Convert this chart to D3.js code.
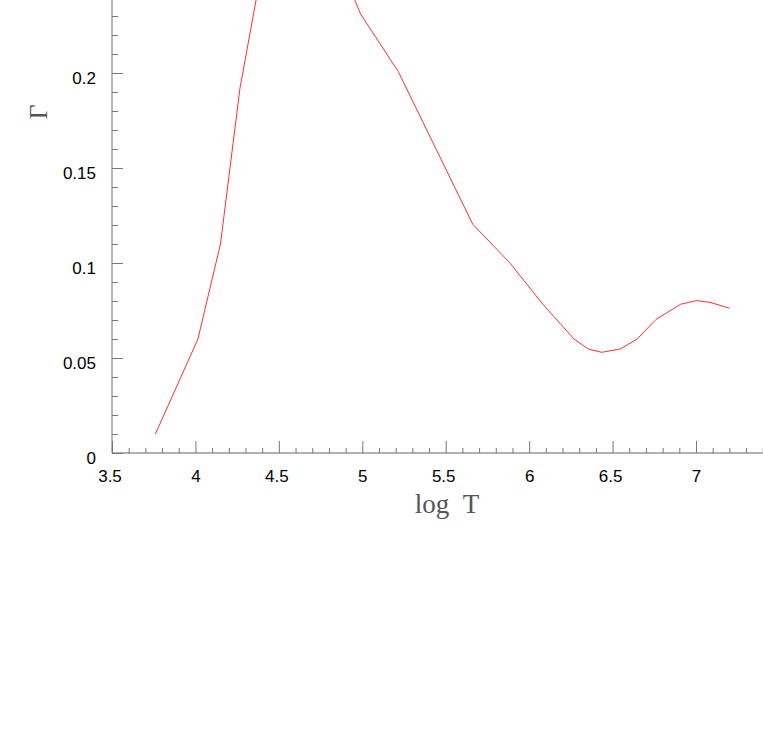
<!DOCTYPE html>
<html>
<head>
<meta charset="utf-8">
<script src="https://cdn.jsdelivr.net/npm/d3@7"></script>
<style>
  html, body { margin: 0; padding: 0; background: #fff; }
  svg { display: block; }
</style>
</head>
<body>
<svg id="chart" width="763" height="739"></svg>
<script>
// Data (log T vs Gamma)
const logT  = [3.76, 4.015, 4.15, 4.267, 4.4, 4.5, 4.6, 4.7, 4.8, 4.9, 4.99, 5.216, 5.662, 5.881, 6.085, 6.269, 6.355, 6.435, 6.545, 6.648, 6.76, 6.908, 7.004, 7.084, 7.2];
const gamma = [0.010, 0.060, 0.110, 0.192, 0.256, 0.278, 0.290, 0.285, 0.270, 0.250, 0.231, 0.2007, 0.1204, 0.1004, 0.078, 0.060, 0.0547, 0.053, 0.0547, 0.060, 0.0703, 0.0783, 0.0802, 0.0793, 0.0762];
const xMajorTicks = [3.5, 4, 4.5, 5, 5.5, 6, 6.5, 7];
const xTickLabels = ["3.5", "4", "4.5", "5", "5.5", "6", "6.5", "7"];
const yMajorTicks = [0, 0.05, 0.1, 0.15, 0.2];
const yTickLabels = ["0", "0.05", "0.1", "0.15", "0.2"];
const xLabel = "log\u00a0\u00a0T";
const yLabel = "\u0393";

const svg = d3.select("#chart");
const x = d3.scaleLinear().domain([3.5, 7]).range([112, 696]);
const y = d3.scaleLinear().domain([0, 0.2]).range([453, 73]);

const xMinor = d3.range(35, 75).map(v => v / 10).filter(v => Math.abs(v * 2 - Math.round(v * 2)) > 1e-9);
const yMinor = d3.range(0, 24).map(v => v / 100).filter(v => Math.abs(v * 20 - Math.round(v * 20)) > 1e-9);

const axisColor = "#777";
const font = "'Liberation Sans', Arial, sans-serif";

// X axis line
svg.append("line")
  .attr("x1", x(3.5)).attr("x2", x(7.4))
  .attr("y1", y(0)).attr("y2", y(0))
  .attr("stroke", "#999").attr("stroke-width", 1.5);
// Y axis line
svg.append("line")
  .attr("x1", x(3.5)).attr("x2", x(3.5))
  .attr("y1", y(0)).attr("y2", 0)
  .attr("stroke", "#888").attr("stroke-width", 1.2);

// X major ticks + labels
const xAxis = d3.axisBottom(x)
  .tickValues(xMajorTicks)
  .tickSizeInner(-12).tickSizeOuter(0).tickPadding(17)
  .tickFormat((d, i) => xTickLabels[i]);
const gx = svg.append("g").attr("transform", `translate(0,${y(0)})`).call(xAxis);
gx.select(".domain").remove();
gx.selectAll(".tick line").attr("stroke", axisColor);
gx.selectAll(".tick text").attr("fill", "#000")
  .attr("dx", (d, i) => xTickLabels[i].indexOf(".") >= 0 ? -2.5 : 0)
  .style("font-family", font).style("font-size", "17px");

// X minor ticks
const gxm = svg.append("g").attr("transform", `translate(0,${y(0)})`)
  .call(d3.axisBottom(x).tickValues(xMinor).tickSizeInner(-5).tickSizeOuter(0).tickFormat(""));
gxm.select(".domain").remove();
gxm.selectAll(".tick line").attr("stroke", axisColor);

// Y major ticks + labels
const yAxis = d3.axisLeft(y)
  .tickValues(yMajorTicks)
  .tickSizeInner(-11).tickSizeOuter(0).tickPadding(16)
  .tickFormat((d, i) => yTickLabels[i]);
const gy = svg.append("g").attr("transform", `translate(${x(3.5)},0)`).call(yAxis);
gy.select(".domain").remove();
gy.selectAll(".tick line").attr("stroke", axisColor);
gy.selectAll(".tick text").attr("fill", "#000").attr("dy", "0.6em")
  .style("font-family", font).style("font-size", "17px");

// Y minor ticks
const gym = svg.append("g").attr("transform", `translate(${x(3.5)},0)`)
  .call(d3.axisLeft(y).tickValues(yMinor).tickSizeInner(-6).tickSizeOuter(0).tickFormat(""));
gym.select(".domain").remove();
gym.selectAll(".tick line").attr("stroke", axisColor);

// Axis titles
svg.append("text")
  .attr("x", 447).attr("y", 513)
  .attr("text-anchor", "middle")
  .attr("fill", "#555")
  .style("font-family", "'Liberation Serif', 'DejaVu Serif', serif")
  .style("font-size", "27px")
  .text(xLabel);
svg.append("text")
  .attr("transform", "translate(47,112) rotate(-90)")
  .attr("text-anchor", "middle")
  .attr("fill", "#555")
  .style("font-family", "'Liberation Serif', 'DejaVu Serif', serif")
  .style("font-size", "26px")
  .text(yLabel);

// Curve
const line = d3.line().x((d, i) => x(logT[i])).y(d => y(d));
svg.append("path")
  .datum(gamma)
  .attr("d", line)
  .attr("fill", "none")
  .attr("stroke", "#ff3030")
  .attr("stroke-width", 1);
</script>
</body>
</html>
